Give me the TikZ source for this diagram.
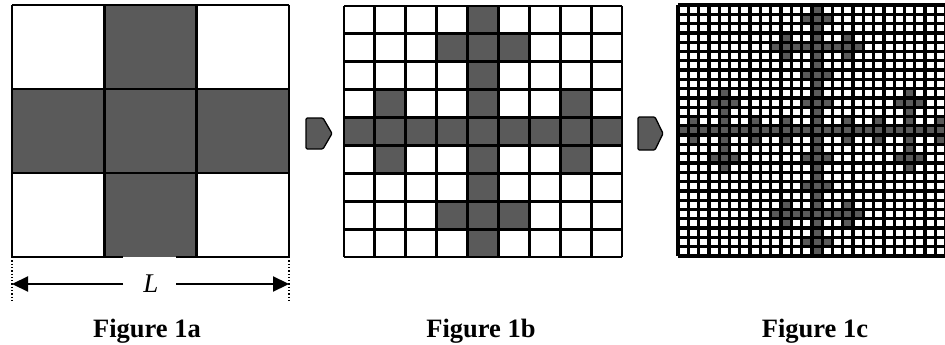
\documentclass[tikz,border=0pt]{standalone}
\usepackage{fontspec}
\setmainfont{Liberation Serif}
\usetikzlibrary{arrows.meta}
\definecolor{cellgray}{HTML}{5A5A5A}
\tikzset{
  cellfill/.style={fill=cellgray},
  gridline/.style={draw=black, line width=#1, line cap=square},
  pent/.style={fill=cellgray, draw=black, line width=1.3pt, rounded corners=1.2pt, line join=round},
  caption/.style={font=\fontsize{26.5}{30}\selectfont\bfseries, anchor=base, inner sep=0pt},
  dimline/.style={line width=2.2pt, -{Triangle[length=16pt,width=15pt]}},
  extline/.style={line width=1.3pt, dotted},
}
\begin{document}
\begin{tikzpicture}[x=1pt,y=-1pt]
\useasboundingbox (0,0) rectangle (945,345);
\clip (0,0) rectangle (945,345);

% ---------- Figure 1a ----------
\def\ax{12}\def\ay{5}\def\aw{92.333}\def\ah{84}
\foreach \i/\j in {1/0,0/1,1/1,2/1,1/2}
  \fill[cellfill] ({\ax+\i*\aw},{\ay+\j*\ah}) rectangle ++(\aw,\ah);
\foreach \k in {0,1,2,3}
  \draw[gridline=2.7pt] ({\ax+\k*\aw},\ay) -- ++(0,{3*\ah});
\foreach \k in {0,1,2}
  \draw[gridline=2.7pt] (\ax,{\ay+\k*\ah}) -- ++({3*\aw},0);
\draw[gridline=2.7pt] (\ax,257) -- (123,257);
\draw[gridline=2.7pt] (176,257) -- (289,257);

% dimension
\coordinate (dl) at (12,284);
\coordinate (dr) at (289,284);
\coordinate (el0) at (12,257);
\coordinate (el1) at (12,303);
\coordinate (er0) at (289,257);
\coordinate (er1) at (289,303);
\draw[extline] (el0) -- (el1);
\draw[extline] (er0) -- (er1);
\node[font=\fontsize{27}{30}\selectfont\itshape, inner sep=0pt] (L) at (151,284) {L};
\coordinate (gl) at (123,284);
\coordinate (gr) at (176,284);
\draw[dimline] (gl) -- (dl);
\draw[dimline] (gr) -- (dr);

% ---------- arrow 1 ----------
\draw[pent] (306,118) -- (323,118) -- (332,133.5) -- (323,149) -- (306,149) -- cycle;

% ---------- Figure 1b ----------
\def\bx{344}\def\by{6}\def\bw{30.889}\def\bh{27.889}
\foreach \ai/\aj in {1/0,0/1,1/1,2/1,1/2}
  \foreach \bi/\bj in {1/0,0/1,1/1,2/1,1/2}
    \fill[cellfill] ({\bx+(3*\ai+\bi)*\bw},{\by+(3*\aj+\bj)*\bh}) rectangle ++(\bw,\bh);
\foreach \k in {0,...,9} {
  \draw[gridline=2.9pt] ({\bx+\k*\bw},\by) -- ++(0,{9*\bh});
  \draw[gridline=2.9pt] (\bx,{\by+\k*\bh}) -- ++({9*\bw},0);
}

% ---------- arrow 2 ----------
\draw[pent] (638,117) -- (655,117) -- (663,133.5) -- (655,150) -- (638,150) -- cycle;

% ---------- Figure 1c ----------
\def\cx{678}\def\cy{5}\def\cw{10.296}\def\ch{9.296}
\foreach \ai/\aj in {1/0,0/1,1/1,2/1,1/2}
  \foreach \bi/\bj in {1/0,0/1,1/1,2/1,1/2}
    \foreach \ci/\cj in {1/0,0/1,1/1,2/1,1/2}
      \fill[cellfill] ({\cx+(9*\ai+3*\bi+\ci)*\cw},{\cy+(9*\aj+3*\bj+\cj)*\ch}) rectangle ++(\cw,\ch);
\foreach \k in {0,...,27} {
  \draw[gridline=3.3pt] ({\cx+\k*\cw},\cy) -- ++(0,{27*\ch});
  \draw[gridline=3.3pt] (\cx,{\cy+\k*\ch}) -- ++({27*\cw},0);
}

% ---------- captions ----------
\node[caption] (capa) at (147,337) {Figure 1a};
\node[caption] (capb) at (481,337) {Figure 1b};
\node[caption] (capc) at (815,337) {Figure 1c};
\end{tikzpicture}
\end{document}
